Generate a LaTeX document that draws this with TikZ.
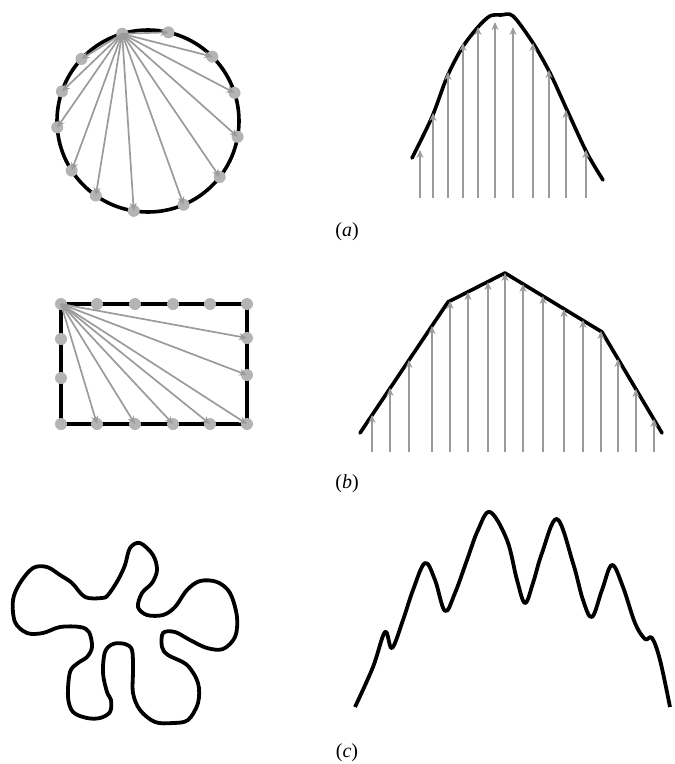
\documentclass[tikz,border=0pt]{standalone}
\usepackage{fontspec}
\setmainfont{Liberation Serif}
\usepackage{xcolor}
\definecolor{dotgray}{RGB}{180,180,180}
\definecolor{raygray}{RGB}{155,155,155}
\usepackage{tikz}
\usetikzlibrary{arrows.meta,calc}

\begin{document}
\begin{tikzpicture}[x=1pt,y=-1pt]
		\tikzstyle{outline}=[draw=black,line width=3.6pt,line join=round,line cap=round]
		\tikzstyle{sample}=[fill=dotgray,draw=none]
		\tikzstyle{ray}=[draw=raygray,line width=1.7pt,-{Stealth[length=8pt,width=7pt]}]
		\tikzstyle{caption}=[font=\fontsize{20}{22}\selectfont,inner sep=0pt]
		\useasboundingbox (0,0) rectangle (675,764);
		% (a)
		\coordinate (cc) at (148,121);
		\coordinate (csrc) at ($(cc)+(106.5:91pt)$);
		\draw[outline] (cc) circle (91pt);
		\foreach \a [count=\i] in {77,45,18,-10,-38,-67,-99,-125,-147,184,161,137}
		\coordinate (c\i) at ($(cc)+(\a:91pt)$);
		\fill[sample] (csrc) circle (6pt);
		\foreach \i in {1,...,12} \fill[sample] (c\i) circle (6pt);
		\foreach \i in {1,...,12} \draw[ray] (csrc) -- (c\i);
		\draw[outline] plot[smooth,tension=0.5] coordinates {(412,158) (432,117) (447,77) (462,48) (478,27) (490,16) (501,15) (513,16) (533,43) (550,73) (567,110) (587,153) (603,180)};
		\foreach \x/\y [count=\i] in {420/150,433/113,448/72,463/43,478/27,495/22,513/27,533/43,549/70,566/110,586/150}{
			\coordinate (ab\i) at (\x,198);
			\coordinate (at\i) at (\x,\y);
			\draw[ray] (ab\i) -- (at\i);
		}
		\node[caption] (capa) at (347,232) {(\textit{a})};
		% (b)
		\coordinate (rtl) at (61,304);
		\draw[outline,line cap=butt] (rtl) rectangle (247,424);
		\foreach \x in {61,97,135,173,210,247}{
			\fill[sample] (\x,304) circle (6pt);
			\fill[sample] (\x,424) circle (6pt);
		}
		\foreach \y in {339,378} \fill[sample] (61,\y) circle (6pt);
		\foreach \y in {338,375} \fill[sample] (247,\y) circle (6pt);
		\foreach \x/\y [count=\i] in {247/338,247/375,247/424,210/424,173/424,135/424,97/424}{
			\coordinate (r\i) at (\x,\y);
			\draw[ray] (rtl) -- (r\i);
		}
		\coordinate (pb1) at (360,433);
		\coordinate (pb2) at (448,302);
		\coordinate (pb3) at (505,273);
		\coordinate (pb4) at (602,332);
		\coordinate (pb5) at (662,433);
		\draw[outline] (pb1) -- (pb2) -- (pb3) -- (pb4) -- (pb5);
		\foreach \x/\y [count=\i] in {372/415,390/388,409/360,432/326,450/301,468/292,488/282,505/273,523/284,543/296,564/309,583/320,601/331,618/359,636/389,654/419}{
			\coordinate (bb\i) at (\x,452);
			\coordinate (bt\i) at (\x,\y);
			\draw[ray] (bb\i) -- (bt\i);
		}
		\node[caption] (capb) at (347,484) {(\textit{b})};
		% (c)
		\draw[outline,line width=3.8pt] plot[smooth cycle,tension=0.55] coordinates {(140,543) (153,555) (157,570) (152,583) (142,593) (138,607) (147,615) (163,615) (175,607) (187,590) (200,581) (217,582) (230,593) (237,617) (235,637) (223,649) (207,648) (190,640) (175,632) (163,633) (162,647) (168,655) (187,665) (198,683) (198,703) (188,720) (173,723) (155,722) (140,710) (133,693) (133,670) (132,650) (125,644) (113,644) (105,652) (103,673) (107,692) (111,700) (110,712) (100,718) (87,718) (73,712) (68,697) (70,672) (78,663) (87,657) (92,647) (89,632) (80,627) (60,627) (43,633) (27,633) (15,622) (13,600) (20,583) (33,568) (47,567) (60,575) (72,583) (85,597) (102,598) (108,595) (118,580) (125,565) (130,548)};
		\draw[outline,line width=3.8pt,line cap=butt] plot[smooth,tension=0.6] coordinates {(355,707) (373,667) (385,632) (392,648) (403,620) (413,590) (425,563) (435,580) (445,611) (455,593) (467,560) (478,530) (490,512) (507,540) (517,580) (525,603) (533,583) (542,553) (557,519) (573,563) (583,600) (592,617) (602,590) (612,565) (623,587) (635,623) (645,639) (652,638) (660,660) (670,707)};
		\node[caption] (capc) at (347,753) {(\textit{c})};
	\end{tikzpicture}
\end{document}
